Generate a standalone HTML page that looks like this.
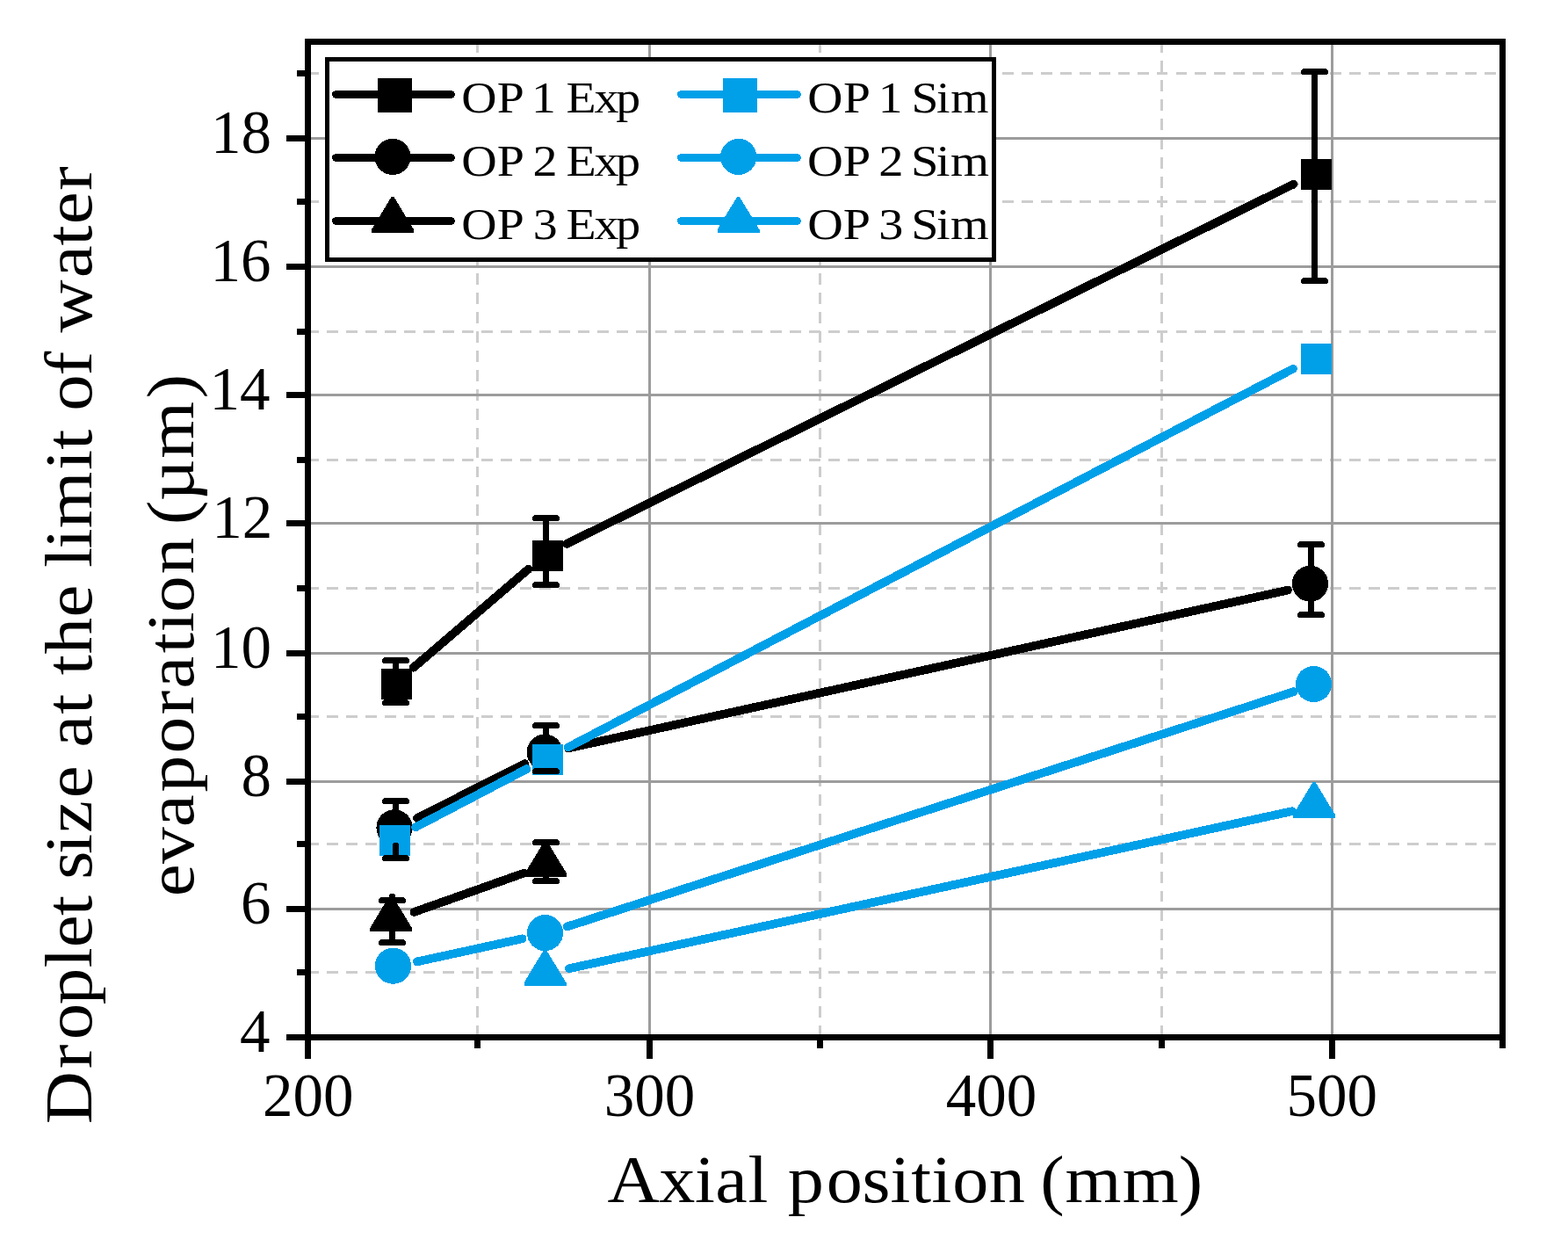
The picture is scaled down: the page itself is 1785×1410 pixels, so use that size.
<!DOCTYPE html>
<html lang="en"><head><meta charset="utf-8">
<title>Droplet size at the limit of water evaporation</title>
<style>
html,body{margin:0;padding:0;background:#fff;}
body{width:1785px;height:1410px;overflow:hidden;}
svg{display:block;}
text{font-family:"Liberation Serif","DejaVu Serif",serif;fill:#000;}
.tk{font-size:69px;}
.lg{font-size:51px;}
.ax{font-size:77px;}
</style></head><body>
<svg width="1785" height="1410" viewBox="0 0 1785 1410">
<rect x="0" y="0" width="1785" height="1410" fill="#fff"/>
<g shape-rendering="crispEdges" fill="none" stroke-width="3">
<g stroke="#cdcdcd" stroke-dasharray="12.9 9.056">
<line x1="350.5" y1="1106.7" x2="1710.5" y2="1106.7"/>
<line x1="350.5" y1="960.5" x2="1710.5" y2="960.5"/>
<line x1="350.5" y1="815.5" x2="1710.5" y2="815.5"/>
<line x1="350.5" y1="669.5" x2="1710.5" y2="669.5"/>
<line x1="350.5" y1="523.4" x2="1710.5" y2="523.4"/>
<line x1="350.5" y1="377.5" x2="1710.5" y2="377.5"/>
<line x1="350.5" y1="229.7" x2="1710.5" y2="229.7"/>
<line x1="350.5" y1="83.5" x2="1710.5" y2="83.5"/>
<line x1="543.5" y1="47.5" x2="543.5" y2="1180.5"/>
<line x1="933.4" y1="47.5" x2="933.4" y2="1180.5"/>
<line x1="1322.0" y1="47.5" x2="1322.0" y2="1180.5"/>
</g>
<g stroke="#9c9c9c">
<line x1="350.5" y1="1034.6" x2="1710.5" y2="1034.6"/>
<line x1="350.5" y1="889.7" x2="1710.5" y2="889.7"/>
<line x1="350.5" y1="743.5" x2="1710.5" y2="743.5"/>
<line x1="350.5" y1="595.4" x2="1710.5" y2="595.4"/>
<line x1="350.5" y1="449.6" x2="1710.5" y2="449.6"/>
<line x1="350.5" y1="303.5" x2="1710.5" y2="303.5"/>
<line x1="350.5" y1="157.5" x2="1710.5" y2="157.5"/>
<line x1="739.4" y1="47.5" x2="739.4" y2="1180.5"/>
<line x1="1127.5" y1="47.5" x2="1127.5" y2="1180.5"/>
<line x1="1516.5" y1="47.5" x2="1516.5" y2="1180.5"/>
</g></g>
<g shape-rendering="crispEdges">
<line x1="470.6" y1="759.8" x2="601.4" y2="647.8" stroke="#000" stroke-width="9.7" stroke-linecap="round"/>
<line x1="645.3" y1="618.9" x2="1472.7" y2="209.5" stroke="#000" stroke-width="9.7" stroke-linecap="round"/>
<line x1="474.9" y1="931.0" x2="597.3" y2="869.1" stroke="#000" stroke-width="9.7" stroke-linecap="round"/>
<line x1="646.9" y1="851.5" x2="1466.1" y2="671.6" stroke="#000" stroke-width="9.7" stroke-linecap="round"/>
<line x1="471.5" y1="1037.9" x2="596.5" y2="993.6" stroke="#000" stroke-width="9.7" stroke-linecap="round"/>
<rect x="434.0" y="761.0" width="35" height="35" fill="#000"/>
<rect x="606.0" y="615.0" width="35" height="35" fill="#000"/>
<rect x="1481.0" y="181.0" width="35" height="35" fill="#000"/>
<circle cx="449.0" cy="941.8" r="20.6" fill="#000"/>
<circle cx="620.2" cy="856.1" r="20.6" fill="#000"/>
<circle cx="1491.5" cy="664.2" r="20.6" fill="#000"/>
<polygon points="443.7,1019.0 446.5,1019.0 469.1,1056.2 469.1,1060.0 421.1,1060.0 421.1,1056.2" fill="#000"/>
<polygon points="619.8,957.0 622.6,957.0 645.2,994.2 645.2,998.0 597.2,998.0 597.2,994.2" fill="#000"/>
<line x1="473.0" y1="941.4" x2="599.5" y2="875.2" stroke="#00a0e9" stroke-width="9.7" stroke-linecap="round"/>
<line x1="646.5" y1="850.6" x2="1472.0" y2="419.7" stroke="#00a0e9" stroke-width="9.7" stroke-linecap="round"/>
<line x1="474.8" y1="1094.4" x2="594.6" y2="1068.3" stroke="#00a0e9" stroke-width="9.7" stroke-linecap="round"/>
<line x1="645.7" y1="1054.5" x2="1472.6" y2="787.2" stroke="#00a0e9" stroke-width="9.7" stroke-linecap="round"/>
<line x1="647.9" y1="1102.2" x2="1470.9" y2="923.2" stroke="#00a0e9" stroke-width="9.7" stroke-linecap="round"/>
<rect x="432.0" y="939.0" width="35" height="35" fill="#00a0e9"/>
<rect x="606.0" y="847.0" width="35" height="35" fill="#00a0e9"/>
<rect x="1481.0" y="391.0" width="35" height="35" fill="#00a0e9"/>
<circle cx="447.5" cy="1099.2" r="20.6" fill="#00a0e9"/>
<circle cx="620.5" cy="1061.6" r="20.6" fill="#00a0e9"/>
<circle cx="1495.5" cy="778.5" r="20.6" fill="#00a0e9"/>
<polygon points="619.1,1081.0 621.9,1081.0 644.5,1118.2 644.5,1122.0 596.5,1122.0 596.5,1118.2" fill="#00a0e9"/>
<polygon points="1494.6,890.0 1497.4,890.0 1520.0,927.2 1520.0,931.0 1472.0,931.0 1472.0,927.2" fill="#00a0e9"/>
<g stroke="#000" stroke-width="7" stroke-linecap="round" fill="none">
<line x1="450.5" y1="751.5" x2="450.5" y2="799.5"/><line x1="438.5" y1="751.5" x2="462.5" y2="751.5"/><line x1="438.5" y1="799.5" x2="462.5" y2="799.5"/>
<line x1="621.5" y1="589.5" x2="621.5" y2="665.5"/><line x1="609.5" y1="589.5" x2="633.5" y2="589.5"/><line x1="609.5" y1="665.5" x2="633.5" y2="665.5"/>
<line x1="1496.5" y1="81.5" x2="1496.5" y2="319.5"/><line x1="1484.5" y1="81.5" x2="1508.5" y2="81.5"/><line x1="1484.5" y1="319.5" x2="1508.5" y2="319.5"/>
<line x1="450.5" y1="911.5" x2="450.5" y2="925.0"/><line x1="450.5" y1="962.4" x2="450.5" y2="976.6"/><line x1="438.5" y1="911.5" x2="462.5" y2="911.5"/><line x1="438.5" y1="976.6" x2="462.5" y2="976.6"/>
<line x1="621.5" y1="825.5" x2="621.5" y2="840.0"/><line x1="609.5" y1="825.5" x2="633.5" y2="825.5"/><line x1="609.5" y1="877.5" x2="633.5" y2="877.5"/>
<line x1="1492.5" y1="619.5" x2="1492.5" y2="699.6"/><line x1="1480.5" y1="619.5" x2="1504.5" y2="619.5"/><line x1="1480.5" y1="699.6" x2="1504.5" y2="699.6"/>
<line x1="446.5" y1="1020.4" x2="446.5" y2="1072.5"/><line x1="434.5" y1="1024.5" x2="458.5" y2="1024.5"/><line x1="434.5" y1="1072.5" x2="458.5" y2="1072.5"/>
<line x1="621.5" y1="958.5" x2="621.5" y2="1002.5"/><line x1="609.5" y1="958.5" x2="633.5" y2="958.5"/><line x1="609.5" y1="1002.5" x2="633.5" y2="1002.5"/>
</g>
</g>
<g shape-rendering="crispEdges" fill="none" stroke="#000" stroke-width="7">
<rect x="350.5" y="47.5" width="1360.0" height="1133.0"/>
<line x1="326.0" y1="1180.5" x2="350.5" y2="1180.5"/>
<line x1="326.0" y1="1034.6" x2="350.5" y2="1034.6"/>
<line x1="326.0" y1="889.7" x2="350.5" y2="889.7"/>
<line x1="326.0" y1="743.5" x2="350.5" y2="743.5"/>
<line x1="326.0" y1="595.4" x2="350.5" y2="595.4"/>
<line x1="326.0" y1="449.6" x2="350.5" y2="449.6"/>
<line x1="326.0" y1="303.5" x2="350.5" y2="303.5"/>
<line x1="326.0" y1="157.5" x2="350.5" y2="157.5"/>
<line x1="338.0" y1="1106.7" x2="350.5" y2="1106.7"/>
<line x1="338.0" y1="960.5" x2="350.5" y2="960.5"/>
<line x1="338.0" y1="815.5" x2="350.5" y2="815.5"/>
<line x1="338.0" y1="669.5" x2="350.5" y2="669.5"/>
<line x1="338.0" y1="523.4" x2="350.5" y2="523.4"/>
<line x1="338.0" y1="377.5" x2="350.5" y2="377.5"/>
<line x1="338.0" y1="229.7" x2="350.5" y2="229.7"/>
<line x1="338.0" y1="83.5" x2="350.5" y2="83.5"/>
<line x1="350.5" y1="1180.5" x2="350.5" y2="1205.0"/>
<line x1="739.4" y1="1180.5" x2="739.4" y2="1205.0"/>
<line x1="1127.5" y1="1180.5" x2="1127.5" y2="1205.0"/>
<line x1="1516.5" y1="1180.5" x2="1516.5" y2="1205.0"/>
<line x1="543.5" y1="1180.5" x2="543.5" y2="1193.0"/>
<line x1="933.4" y1="1180.5" x2="933.4" y2="1193.0"/>
<line x1="1322.0" y1="1180.5" x2="1322.0" y2="1193.0"/>
<line x1="1710.5" y1="1180.5" x2="1710.5" y2="1193.0"/>
</g>
<g shape-rendering="crispEdges">
<rect x="372.5" y="67.5" width="759" height="228" fill="#fff" stroke="#000" stroke-width="5"/>
<line x1="382.5" y1="107.5" x2="513.5" y2="107.5" stroke="#000" stroke-width="9" stroke-linecap="round"/>
<line x1="382.5" y1="179.5" x2="513.5" y2="179.5" stroke="#000" stroke-width="9" stroke-linecap="round"/>
<line x1="382.5" y1="251.5" x2="513.5" y2="251.5" stroke="#000" stroke-width="9" stroke-linecap="round"/>
<rect x="430.0" y="89.0" width="39" height="39" fill="#000"/>
<circle cx="447.0" cy="178.4" r="20.6" fill="#000"/>
<polygon points="445.6,224.0 448.4,224.0 471.0,261.2 471.0,265.0 423.0,265.0 423.0,261.2" fill="#000"/>
<line x1="775.5" y1="107.5" x2="907.5" y2="107.5" stroke="#00a0e9" stroke-width="9" stroke-linecap="round"/>
<line x1="775.5" y1="179.5" x2="907.5" y2="179.5" stroke="#00a0e9" stroke-width="9" stroke-linecap="round"/>
<line x1="775.5" y1="251.5" x2="907.5" y2="251.5" stroke="#00a0e9" stroke-width="9" stroke-linecap="round"/>
<rect x="823.0" y="89.0" width="39" height="39" fill="#00a0e9"/>
<circle cx="840.7" cy="178.4" r="20.6" fill="#00a0e9"/>
<polygon points="839.1,224.0 841.9,224.0 864.5,261.2 864.5,265.0 816.5,265.0 816.5,261.2" fill="#00a0e9"/>
</g>
<text class="lg" transform="translate(526.7 128.3) scale(1.0934 1)" x="-1.3 35.8 64.1 71.7 97.2 107.8 137.1 159.6">OP 1 Exp</text>
<text class="lg" transform="translate(920.8 128.3) scale(1.0906 1)" x="-1.4 35.9 64.3 72.3 97.8 106.9 133.1 148.1">OP 1 Sim</text>
<text class="lg" transform="translate(526.7 200.3) scale(1.0998 1)" x="-1.4 35.5 63.8 72.5 98.0 107.1 136.2 158.6">OP 2 Exp</text>
<text class="lg" transform="translate(920.8 200.3) scale(1.1098 1)" x="-1.7 35.0 63.4 71.6 97.1 104.8 130.7 145.2">OP 2 Sim</text>
<text class="lg" transform="translate(526.7 272.3) scale(1.0947 1)" x="-1.3 35.7 64.1 73.1 98.6 107.6 136.9 159.4">OP 3 Exp</text>
<text class="lg" transform="translate(920.8 272.3) scale(1.1019 1)" x="-1.5 35.4 63.7 72.0 97.5 105.6 131.7 146.4">OP 3 Sim</text>
<text class="tk" x="273.0" y="1197.0">4</text>
<text class="tk" x="274.0" y="1051.1">6</text>
<text class="tk" x="274.5" y="906.2">8</text>
<text class="tk" x="240.0" y="760.0">10</text>
<text class="tk" x="241.2" y="611.9">12</text>
<text class="tk" x="238.5" y="466.1">14</text>
<text class="tk" x="239.5" y="320.0">16</text>
<text class="tk" x="240.0" y="174.0">18</text>
<text class="tk" x="298.9" y="1270">200</text>
<text class="tk" x="687.7" y="1270">300</text>
<text class="tk" x="1076.8" y="1270">400</text>
<text class="tk" x="1464.5" y="1270">500</text>
<text class="ax" transform="translate(693.1 1368.0) scale(1.0674 1)" x="-1.4 53.6 91.8 113.4 148.5 169.9 190.9 232.1 270.2 300.1 322.4 344.2 366.4 405.3 443.8 460.2 486.6 547.8 607.8">Axial position (mm)</text>
<text class="ax" transform="translate(103.9 1275.5) rotate(-90) scale(1.0795 1)" x="-3.6 54.8 85.5 122.5 161.2 182.7 216.3 237.7 254.6 281.1 303.3 340.3 374.5 393.4 428.8 450.2 469.8 491.9 530.8 565.0 583.1 603.1 624.7 685.9 707.6 729.0 748.2 785.5 811.1 830.9 888.5 922.7 945.1 980.6">Droplet size at the limit of water</text>
<text class="ax" transform="translate(219.5 1016.8) rotate(-90) scale(1.0826 1)" x="-3.1 31.2 69.7 106.4 147.1 187.7 215.2 252.8 274.7 295.4 335.6 374.1 387.5 412.3 457.3 520.4">evaporation (µm)</text>
</svg>
</body></html>
